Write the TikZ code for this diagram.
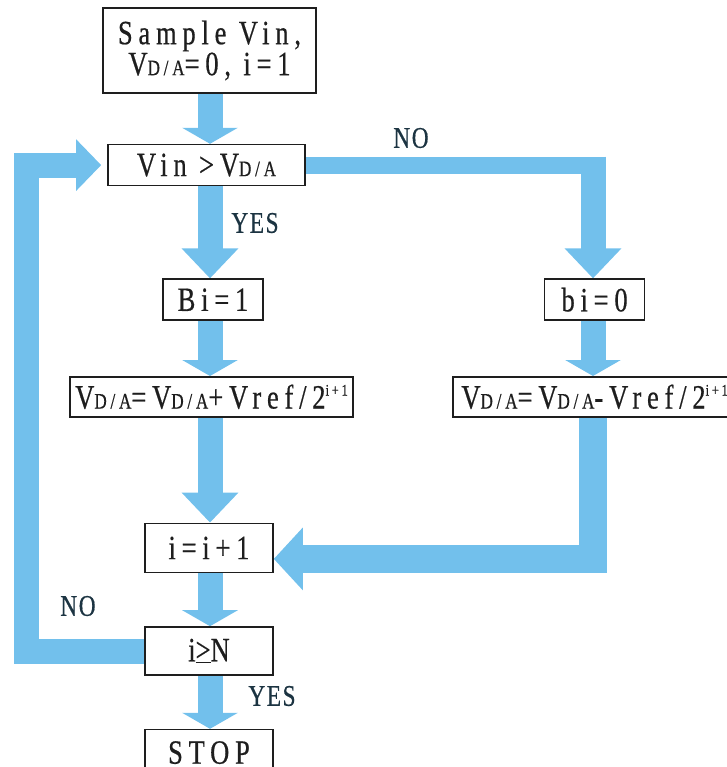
\documentclass[tikz,border=0pt]{standalone}
\usepackage{fontspec}
\setmainfont{Liberation Serif}[FakeStretch=0.78,LetterSpace=17,FakeBold=0.5]
\newfontfamily\lblfont{Liberation Serif}[FakeStretch=0.78,LetterSpace=5,FakeBold=0.5]
\usepackage{tikz}
\usetikzlibrary{arrows.meta,positioning,calc,backgrounds}
\definecolor{flowblue}{HTML}{72C0EC}
\definecolor{inkgray}{HTML}{1E1E1E}
\definecolor{labelnavy}{HTML}{1C3442}
\newcommand{\vda}{V{\fontsize{22}{22}\selectfont D/A}}
\newcommand{\ipow}{\raisebox{13pt}{\fontsize{16}{16}\selectfont i+1}}

\begin{document}
\begin{tikzpicture}[x=1pt, y=-1pt,
  box/.style={draw=inkgray, line width=1.6pt, fill=white, text=inkgray, inner sep=0pt, align=center, font=\fontsize{34}{31}\selectfont},
  lbl/.style={text=labelnavy, inner sep=0pt, font=\lblfont\fontsize{30}{30}\selectfont},
  flow/.style={draw=flowblue, line width=25pt, line join=miter},
  tipshort/.style={-{Triangle[width=55pt,length=16pt]}},
  tiplong/.style={-{Triangle[width=55pt,length=30pt]}}
]
\useasboundingbox (0,0) rectangle (726,767);
\node[box, minimum width=213pt, minimum height=85pt] (start) at (209.5,50.5) {Sample Vin,\\\vda=0, i=1};
\node[box, below=50pt of start, xshift=-3pt, minimum width=197pt, minimum height=41pt] (cmp) {Vin >\vda};
\node[box, below=92pt of cmp, xshift=6.5pt, minimum width=100pt, minimum height=41pt] (b1) {Bi=1};
\node[box, right=280pt of b1, minimum width=100pt, minimum height=41pt] (b0) {bi=0};
\node[box, below=55pt of b1, xshift=-1.5pt, minimum width=283pt, minimum height=40pt] (addv) {\vda=\vda+Vref/2\ipow};
\node[box, below=55pt of b0, minimum width=283pt, minimum height=40pt] (subv) {\vda=\vda-Vref/2\ipow};
\node[box, below=105pt of addv, xshift=-2.5pt, minimum width=128pt, minimum height=49pt] (inc) {i=i+1};
\node[box, below=53pt of inc, minimum width=128pt, minimum height=48pt] (chk) {i\underline{>}N};
\node[box, below=53pt of chk, minimum width=128pt, minimum height=46pt] (stop) {STOP};

\node[lbl] (no1) at (411,138) {NO};
\node[lbl] (yes1) at (255,223) {YES};
\node[lbl] (no2) at (78,606) {NO};
\node[lbl] (yes2) at (272,696) {YES};

\coordinate (col) at (210,0);
\coordinate (rcol) at (593,0);
\coordinate (lcol) at (26,0);
\begin{scope}[on background layer]
\draw[flow, tipshort] (start.south -| col) -- (cmp.north -| col);
\draw[flow, tiplong] (cmp.south -| col) -- (b1.north -| col);
\draw[flow, tipshort] (b1.south -| col) -- (addv.north -| col);
\draw[flow, tiplong] (addv.south -| col) -- (inc.north -| col);
\draw[flow, tipshort] (inc.south -| col) -- (chk.north -| col);
\draw[flow, tipshort] (chk.south -| col) -- (stop.north -| col);
% NO branch
\draw[flow, line width=17pt] (cmp.east) -- ($(cmp.east -| rcol)+(12.5,0)$);
\draw[flow, tiplong] ($(cmp.east -| rcol)+(0,-8.5)$) -- (b0.north -| rcol);
\draw[flow, tipshort] (b0.south -| rcol) -- (subv.north -| rcol);
% back to i=i+1
\draw[flow, line width=28pt, -{Triangle[width=61pt,length=29pt]}] (subv.south -| rcol) |- ($(inc.east)+(0,11)$);
% loop back
\draw[flow, -{Triangle[width=50pt,length=25pt]}, shorten >=6pt] (chk.west) -| (lcol |- cmp.west) -- (cmp.west);
\end{scope}
\end{tikzpicture}
\end{document}
